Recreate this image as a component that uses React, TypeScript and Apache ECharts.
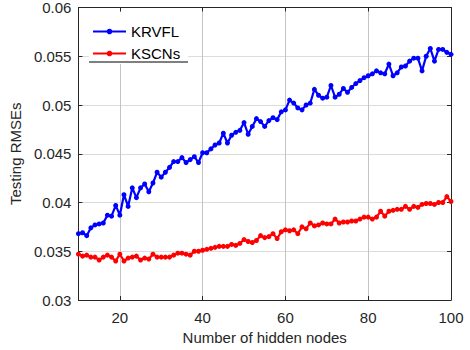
import React, { useEffect, useRef } from "react";
import * as echarts from "echarts";

const hiddenNodes: number[] = Array.from({ length: 91 }, (_, i) => 10 + i);

const krvfl: number[] = [
  0.0368, 0.0369, 0.0366, 0.0374, 0.0377, 0.0378, 0.0379, 0.0387, 0.0386, 0.0397,
  0.0387, 0.0408, 0.0396, 0.0415, 0.0405, 0.0415, 0.0419, 0.0411, 0.042, 0.0431,
  0.0426, 0.0431, 0.0436, 0.0442, 0.0442, 0.0446, 0.0441, 0.0444, 0.0447, 0.0441,
  0.0451, 0.0451, 0.0455, 0.0459, 0.0461, 0.0471, 0.0461, 0.0469, 0.0472, 0.0474,
  0.0482, 0.047, 0.0478, 0.0486, 0.0483, 0.0478, 0.0484, 0.0487, 0.0485, 0.0493,
  0.0495, 0.0505, 0.0502, 0.0497, 0.0495, 0.05, 0.0502, 0.0516, 0.051, 0.0507,
  0.0508, 0.052, 0.0508, 0.0511, 0.0517, 0.0513, 0.0518, 0.0522, 0.0525, 0.0528,
  0.053, 0.0532, 0.0535, 0.0533, 0.0532, 0.0542, 0.053, 0.0533, 0.0539, 0.054,
  0.0545, 0.0548, 0.0548, 0.0535, 0.055, 0.0558, 0.0545, 0.0557, 0.0557, 0.0554,
  0.0552,
];

const kscns: number[] = [
  0.0347, 0.0345, 0.0346, 0.0344, 0.0344, 0.0341, 0.0344, 0.0346, 0.0344, 0.034,
  0.0347, 0.034, 0.0343, 0.0344, 0.0345, 0.0341, 0.0343, 0.0342, 0.0347, 0.0344,
  0.0344, 0.0344, 0.0344, 0.0346, 0.0348, 0.0348, 0.0347, 0.0346, 0.035, 0.035,
  0.0351, 0.0352, 0.0353, 0.0354, 0.0355, 0.0355, 0.0355, 0.0357, 0.0356, 0.0358,
  0.0362, 0.036, 0.0359, 0.0361, 0.0366, 0.0364, 0.0365, 0.0368, 0.0363, 0.037,
  0.0372, 0.0371, 0.0372, 0.0368, 0.0375, 0.0373, 0.0379, 0.0376, 0.0377, 0.0379,
  0.0378, 0.0378, 0.0383, 0.0379, 0.038, 0.038, 0.0381, 0.0381, 0.0383, 0.0385,
  0.0385, 0.0383, 0.0385, 0.0391, 0.0386, 0.0391, 0.0392, 0.0393, 0.0393, 0.0396,
  0.0393, 0.0396, 0.0395, 0.0398, 0.0399, 0.0399, 0.0398, 0.04, 0.04, 0.0406,
  0.0401,
];

const xTicks: number[] = [20, 40, 60, 80, 100];
const seriesNames: string[] = ["KRVFL", "KSCNs"];

const FONT = "Liberation Sans";
const TXT = "#262626";
const GRID = "#dcdcdc";
const VGRID = "#c4c4c4";

export default function App() {
  const ref = useRef<HTMLDivElement>(null);

  useEffect(() => {
    document.body.style.margin = "0";
    if (!ref.current) return;
    const chart = echarts.init(ref.current, undefined, { renderer: "svg" });

    const pair = (vals: number[]) => hiddenNodes.map((x, i) => [x, vals[i]]);
    const axisLineStyle = { show: true, lineStyle: { color: TXT, width: 1 } };

    chart.setOption({
      animation: false,
      backgroundColor: "#ffffff",
      textStyle: { fontFamily: FONT },
      grid: { left: 72, right: 19, top: 6, bottom: 48, containLabel: false },
      legend: {
        data: seriesNames,
        orient: "vertical",
        left: 89,
        top: 12,
        padding: [12, 8, 3, 3],
        itemGap: 7,
        itemWidth: 33,
        itemHeight: 7,
        backgroundColor: "#ffffff",
        textStyle: { fontFamily: FONT, fontSize: 15, color: "#000000", lineHeight: 14 },
      },
      xAxis: [
        {
          type: "value",
          min: 10,
          max: 100,
          name: "Number of hidden nodes",
          nameLocation: "middle",
          nameGap: 30,
          nameTextStyle: { fontFamily: FONT, fontSize: 15, color: TXT },
          axisLine: axisLineStyle,
          axisTick: { show: true, inside: true, length: 4, customValues: xTicks, lineStyle: { color: TXT } },
          axisLabel: { customValues: xTicks, margin: 10, fontFamily: FONT, fontSize: 15, color: TXT },
          splitLine: { show: true, lineStyle: { color: VGRID, width: 1 } },
        },
        {
          type: "value",
          position: "top",
          min: 10,
          max: 100,
          axisLine: axisLineStyle,
          axisTick: { show: true, inside: true, length: 4, customValues: xTicks, lineStyle: { color: TXT } },
          axisLabel: { show: false },
          splitLine: { show: false },
        },
      ],
      yAxis: [
        {
          type: "value",
          min: 0.03,
          max: 0.06,
          interval: 0.005,
          name: "Testing RMSEs",
          nameLocation: "middle",
          nameGap: 53,
          nameTextStyle: { fontFamily: FONT, fontSize: 15, color: TXT },
          axisLine: axisLineStyle,
          axisTick: { show: true, inside: true, length: 4, lineStyle: { color: TXT } },
          axisLabel: {
            margin: 7,
            fontFamily: FONT,
            fontSize: 15,
            color: TXT,
            formatter: (v: number) => String(+v.toFixed(3)),
          },
          splitLine: { show: true, lineStyle: { color: GRID, width: 1 } },
        },
        {
          type: "value",
          position: "right",
          min: 0.03,
          max: 0.06,
          interval: 0.005,
          axisLine: axisLineStyle,
          axisTick: { show: true, inside: true, length: 4, lineStyle: { color: TXT } },
          axisLabel: { show: false },
          splitLine: { show: false },
        },
      ],
      series: [
        {
          name: seriesNames[0],
          type: "line",
          xAxisIndex: 0,
          yAxisIndex: 0,
          data: pair(krvfl),
          symbol: "circle",
          symbolSize: 5,
          showSymbol: true,
          itemStyle: { color: "#0000ff" },
          lineStyle: { color: "#0000ff", width: 2.2 },
          z: 3,
        },
        {
          name: seriesNames[1],
          type: "line",
          xAxisIndex: 0,
          yAxisIndex: 0,
          data: pair(kscns),
          symbol: "circle",
          symbolSize: 5,
          showSymbol: true,
          itemStyle: { color: "#ff0000" },
          lineStyle: { color: "#ff0000", width: 2.2 },
          z: 3,
        },
      ],
      graphic: [
        {
          type: "line",
          shape: { x1: 89, y1: 62, x2: 188, y2: 62 },
          style: { stroke: "#000000", lineWidth: 1 },
          z: 100,
        },
      ],
    });

    return () => chart.dispose();
  }, []);

  return <div ref={ref} style={{ width: 470, height: 350 }} />;
}
